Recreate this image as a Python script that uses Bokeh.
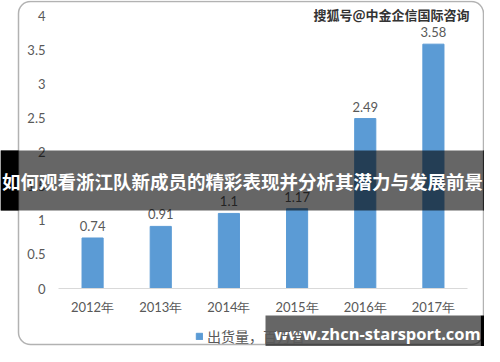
from bokeh.plotting import figure
from bokeh.models import BoxAnnotation, Label, FixedTicker, ColumnDataSource, Range1d
from bokeh.core.properties import value
from bokeh.embed import file_html
from bokeh.resources import INLINE

# ---- data ----
years = ["2012年", "2013年", "2014年", "2015年", "2016年", "2017年"]
shipments = [0.74, 0.91, 1.1, 1.17, 2.49, 3.58]
value_labels = ["0.74", "0.91", "1.1", "1.17", "2.49", "3.58"]
y_ticks = [0, 0.5, 1, 1.5, 2, 2.5, 3, 3.5, 4]
y_tick_labels = ["0", "0.5", "1", "1.5", "2", "2.5", "3", "3.5", "4"]
series_name = "出货量，百万台"
banner_text = "如何观看浙江队新成员的精彩表现并分析其潜力与发展前景"
source_text = "搜狐号@中金企信国际咨询"
site_text = "www.zhcn-starsport.com"

# ---- layout (pixels) ----
W, H = 484, 346
PLOT_L, PLOT_R = 58, 467     # category band edges
PLOT_T, PLOT_B = 15, 288     # y = 4 and y = 0
GRAY = "#595959"
BAR = "#5b9bd5"

n = len(years)
x_idx = list(range(n))
px_x = (PLOT_R - PLOT_L) / n
px_y = (PLOT_B - PLOT_T) / (y_ticks[-1] - y_ticks[0])
x0 = -0.5 - PLOT_L / px_x
y0 = y_ticks[0] - (H - PLOT_B) / px_y

p = figure(width=W, height=H,
           x_range=Range1d(x0, x0 + W / px_x),
           y_range=Range1d(y0, y0 + H / px_y),
           output_backend="svg", toolbar_location=None,
           min_border=0, min_border_left=0, min_border_right=0,
           min_border_top=0, min_border_bottom=0)
p.outline_line_color = None
p.background_fill_color = "white"
p.border_fill_color = "white"
p.xgrid.grid_line_color = None
p.ygrid.grid_line_color = None

src = ColumnDataSource(dict(x=x_idx, year=years, shipments=shipments, label=value_labels))
p.vbar(x="x", top="shipments", width=0.31, source=src, color=BAR,
       legend_label=series_name)
p.text(x="x", y="shipments", text="label", source=src, text_align="center",
       text_baseline="bottom", y_offset=-7, text_font=value("Lato"),
       text_font_size="13px", text_color=GRAY)

xa = p.xaxis[0]
xa.fixed_location = y_ticks[0]
xa.bounds = (-0.5, n - 0.5)
xa.ticker = FixedTicker(ticks=x_idx)
xa.major_label_overrides = {i: y for i, y in zip(x_idx, years)}
xa.axis_line_color = "#d9d9d9"
xa.axis_line_width = 1
xa.major_tick_line_color = None
xa.minor_tick_line_color = None
xa.major_tick_out = 0
xa.major_tick_in = 0
xa.major_label_standoff = 10
xa.major_label_text_color = GRAY
xa.major_label_text_font = "Lato"
xa.major_label_text_font_size = "13px"

ya = p.yaxis[0]
ya.fixed_location = -0.5
ya.bounds = (y_ticks[0], y_ticks[-1])
ya.ticker = FixedTicker(ticks=y_ticks)
ya.major_label_overrides = {t: s for t, s in zip(y_ticks, y_tick_labels)}
ya.axis_line_color = None
ya.major_tick_line_color = None
ya.minor_tick_line_color = None
ya.major_tick_out = 0
ya.major_tick_in = 0
ya.major_label_standoff = 13
ya.major_label_text_color = GRAY
ya.major_label_text_font = "Lato"
ya.major_label_text_font_size = "13px"

leg = p.legend[0]
leg.location = (195, 0)
leg.orientation = "horizontal"
leg.background_fill_alpha = 0
leg.border_line_color = None
leg.padding = 0
leg.margin = 0
leg.glyph_width = 8
leg.glyph_height = 8
leg.label_standoff = 4
leg.label_height = 14
leg.label_text_font = "Noto Sans CJK SC"
leg.label_text_font_size = "14px"
leg.label_text_color = GRAY


def box(l, r, t, b, **kw):
    return BoxAnnotation(left=l, right=r, top=t, bottom=b,
                         left_units="canvas", right_units="canvas",
                         top_units="canvas", bottom_units="canvas", **kw)


# rounded frame of the picture
p.add_layout(box(18, 483, 1, 344, fill_alpha=0, line_color="black",
                 line_width=1.5, border_radius=12))

# banner overlay
p.add_layout(box(0, W, 150, 210, fill_color="black", fill_alpha=0.6,
                 line_color=None, level="overlay"))
for l, r in [(0, 18), (483, W)]:
    p.add_layout(box(l, r, 150, 210, fill_color="black", fill_alpha=1,
                     line_color=None, level="overlay"))
p.add_layout(Label(x=W / 2, y=180, x_units="canvas", y_units="canvas",
                   text=banner_text, text_align="center", text_baseline="middle",
                   text_color="white", text_font="Noto Sans CJK SC",
                   text_font_style="bold", text_font_size="18.5px", level="overlay"))

# site watermark
p.add_layout(box(265, 480, 315, H, fill_color="black", fill_alpha=0.6,
                 line_color=None, level="overlay"))
p.add_layout(box(480, W, 315, H, fill_color="black", fill_alpha=1,
                 line_color=None, level="overlay"))
p.add_layout(Label(x=377, y=333, x_units="canvas", y_units="canvas",
                   text=site_text, text_align="center", text_baseline="middle",
                   text_color="white", text_font="Open Sans",
                   text_font_style="bold", text_font_size="16.5px", level="overlay"))

# source text
p.add_layout(Label(x=391, y=14, x_units="canvas", y_units="canvas",
                   text=source_text, text_align="center", text_baseline="middle",
                   text_color="#333333", text_font="Noto Sans CJK SC",
                   text_font_style="bold", text_font_size="13px", level="overlay"))

open("out.html", "w").write(file_html(p, INLINE))
